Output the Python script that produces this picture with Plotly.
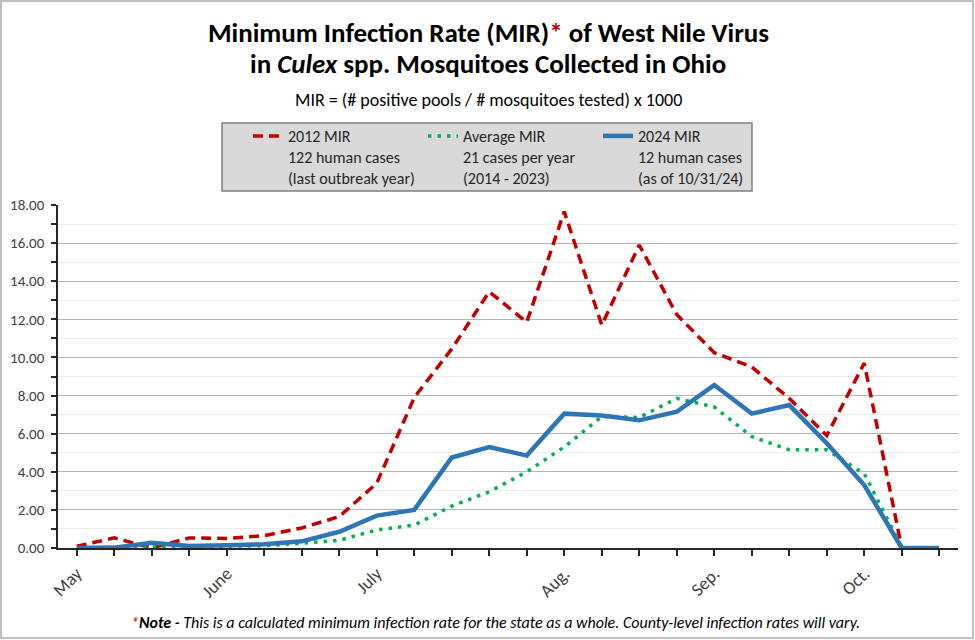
import plotly.graph_objects as go

# ---- data ----
week_index = list(range(24))
week_labels = ["May", "", "", "", "June", "", "", "", "July", "", "", "", "",
               "Aug.", "", "", "", "Sep.", "", "", "", "Oct.", "", ""]
mir_2012 = [0.09, 0.53, 0.00, 0.53, 0.50, 0.65, 1.05, 1.65, 3.40, 7.90, 10.45, 13.45,
            11.85, 17.65, 11.70, 15.90, 12.25, 10.25, 9.50, 7.85, 5.90, 9.70, 0.00, None]
mir_avg = [0.00, 0.02, 0.04, 0.05, 0.08, 0.12, 0.25, 0.40, 0.95, 1.20, 2.20, 2.95,
           4.00, 5.30, 6.90, 6.85, 7.85, 7.40, 5.85, 5.15, 5.15, 3.90, 0.05, None]
mir_2024 = [0.00, 0.02, 0.28, 0.10, 0.15, 0.20, 0.35, 0.85, 1.70, 2.00, 4.75, 5.30,
            4.85, 7.05, 6.95, 6.70, 7.15, 8.55, 7.05, 7.50, 5.50, 3.30, 0.00, 0.00]
series_names = [
    "2012 MIR<br>122 human cases<br>(last outbreak year)",
    "Average MIR<br>21 cases per year<br>(2014 - 2023)",
    "2024 MIR<br>12 human cases<br>(as of 10/31/24)",
]
y_ticks = list(range(0, 19, 2))

FONT = "Carlito, Lato, 'Open Sans', sans-serif"
RED = "#c00000"
GREEN = "#00b050"
BLUE = "#2e75b6"

fig = go.Figure()
fig.add_trace(go.Scatter(x=week_index, y=mir_2012, mode="lines", name=series_names[0],
                         line=dict(color=RED, width=3.5, dash="10px,6px")))
fig.add_trace(go.Scatter(x=week_index, y=mir_avg, mode="lines", name=series_names[1],
                         line=dict(color=GREEN, width=3.5, dash="3.5px,6px")))
fig.add_trace(go.Scatter(x=week_index, y=mir_2024, mode="lines", name=series_names[2],
                         line=dict(color=BLUE, width=4.5)))

L, R, T, B = 58, 17, 205, 92
W, H = 975, 640
pw, ph = W - L - R, H - T - B

def px_x(x):
    return (x - L) / pw

def px_y(y):
    return (H - B - y) / ph

fig.update_layout(
    width=W, height=H,
    margin=dict(l=L, r=R, t=T, b=B, autoexpand=False),
    paper_bgcolor="white", plot_bgcolor="white",
    font=dict(family=FONT, color="#404040"),
    showlegend=True,
    legend=dict(
        orientation="h", x=px_x(248), y=px_y(119), xanchor="left", yanchor="top",
        bgcolor="rgba(0,0,0,0)", borderwidth=0,
        font=dict(family=FONT, size=16, color="#262626"),
        valign="top", entrywidth=130, entrywidthmode="pixels",
        tracegroupgap=0,
    ),
    xaxis=dict(
        range=[-0.5, 23.5], tickmode="array", tickvals=week_index, ticktext=week_labels,
        tickangle=-45, ticks="outside", ticklen=6, tickwidth=1.5, tickcolor="#262626",
        showline=True, linecolor="#262626", linewidth=2, showgrid=False, zeroline=False,
        tickfont=dict(family=FONT, size=18, color="#404040"),
    ),
    yaxis=dict(
        range=[0, 18], tickmode="array", tickvals=y_ticks, tickformat=".2f",
        ticks="outside", ticklen=5, tickwidth=1.5, tickcolor="#262626",
        showline=True, linecolor="#262626", linewidth=1.5,
        showgrid=True, gridcolor="#b4b4b4", gridwidth=1.2, zeroline=False,
        tickfont=dict(family=FONT, size=15, color="#404040"),
        ticklabelstandoff=4,
        minor=dict(dtick=1, tick0=0, showgrid=True, gridcolor="#ececec", gridwidth=1,
                   ticks="outside", ticklen=5, tickwidth=1.5, tickcolor="#262626"),
    ),
)

# legend box
fig.add_shape(type="rect", xref="paper", yref="paper",
              x0=px_x(222), x1=px_x(752), y0=px_y(191), y1=px_y(123),
              line=dict(color="#808080", width=1.5), fillcolor="#d9d9d9", layer="below")

cx = px_x(488)
fig.add_annotation(xref="paper", yref="paper", x=cx, y=px_y(33), showarrow=False,
                   xanchor="center", yanchor="middle",
                   text="<b>Minimum Infection Rate (MIR)<span style='color:#c00000'>*</span> of West Nile Virus</b>",
                   font=dict(family=FONT, size=27, color="#000000"))
fig.add_annotation(xref="paper", yref="paper", x=cx, y=px_y(63), showarrow=False,
                   xanchor="center", yanchor="middle",
                   text="<b>in <i>Culex</i> spp. Mosquitoes Collected in Ohio</b>",
                   font=dict(family=FONT, size=27, color="#000000"))
fig.add_annotation(xref="paper", yref="paper", x=cx, y=px_y(100), showarrow=False,
                   xanchor="center", yanchor="middle",
                   text="MIR = (# positive pools / # mosquitoes tested) x 1000",
                   font=dict(family=FONT, size=18, color="#000000"))
fig.add_annotation(xref="paper", yref="paper", x=px_x(495), y=px_y(622), showarrow=False,
                   xanchor="center", yanchor="middle",
                   text="<i><span style='color:#c00000'>*</span><b>Note - </b>This is a calculated minimum infection rate for the state as a whole. County-level infection rates will vary.</i>",
                   font=dict(family=FONT, size=16, color="#000000"))

# outer frame
fig.add_shape(type="rect", xref="paper", yref="paper",
              x0=px_x(1), x1=px_x(973), y0=px_y(1), y1=px_y(638),
              line=dict(color="#bfbfbf", width=2), fillcolor="rgba(0,0,0,0)", layer="above")

fig.write_html("out.html", config={"displayModeBar": False},
               post_script="document.body.style.margin='0';")
